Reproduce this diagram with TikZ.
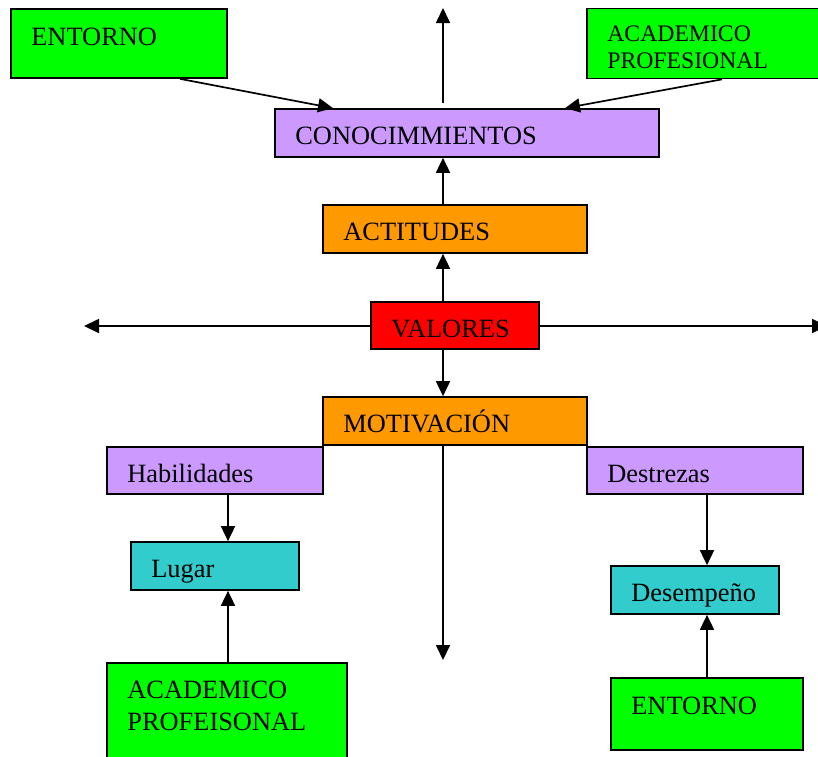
\documentclass[tikz,border=0pt]{standalone}
\usepackage{fontspec}
\setmainfont{Liberation Serif}
\usetikzlibrary{arrows.meta}

\definecolor{boxgreen}{RGB}{0,255,0}
\definecolor{boxlilac}{RGB}{204,153,255}
\definecolor{boxorange}{RGB}{255,153,0}
\definecolor{boxred}{RGB}{255,0,0}
\definecolor{boxcyan}{RGB}{51,204,204}

\tikzset{
  box/.style={draw=black, line width=1.7pt, inner sep=0pt, rectangle},
  txt/.style={inner sep=0pt, anchor=base west, font=\fontsize{26.4}{31.7}\selectfont},
  txtsmall/.style={inner sep=0pt, anchor=base west, font=\fontsize{23.7}{26.6}\selectfont},
  arr/.style={line width=1.7pt, -{Triangle[length=15pt,width=14pt]}}
}

\begin{document}
\begin{tikzpicture}[x=1pt, y=-1pt]
  \clip (0,0) rectangle (818,756);
  \fill[white] (0,0) rectangle (818,756);

  % boxes
  \node[box, fill=boxgreen, minimum width=216pt, minimum height=69pt] (ent1) at (119,43.5) {};
  \node[box, fill=boxgreen, minimum width=253pt, minimum height=70pt] (acad1) at (713.5,43.5) {};
  \node[box, fill=boxlilac, minimum width=384pt, minimum height=48pt] (con) at (467,133) {};
  \node[box, fill=boxorange, minimum width=264pt, minimum height=48pt] (act) at (455,229) {};
  \node[box, fill=boxred, minimum width=168pt, minimum height=47pt] (val) at (455,325.5) {};
  \node[box, fill=boxorange, minimum width=264pt, minimum height=48pt] (mot) at (455,421) {};
  \node[box, fill=boxlilac, minimum width=216pt, minimum height=47pt] (hab) at (215,470.5) {};
  \node[box, fill=boxlilac, minimum width=216pt, minimum height=47pt] (des) at (695,470.5) {};
  \node[box, fill=boxcyan, minimum width=168pt, minimum height=48pt] (lug) at (215,566) {};
  \node[box, fill=boxcyan, minimum width=168pt, minimum height=48pt] (dem) at (695,590) {};
  \node[box, fill=boxgreen, minimum width=240pt, minimum height=117pt] (acad2) at (227,721.5) {};
  \node[box, fill=boxgreen, minimum width=192pt, minimum height=72pt] (ent2) at (707,714) {};

  % labels
  \node[txt] (ent1t) at ([xshift=21pt,yshift=-37.5pt]ent1.north west) {ENTORNO};
  \node[txtsmall, align=left, anchor=north west] (acad1t) at ([xshift=21pt,yshift=-18pt]acad1.north west) {ACADEMICO\\PROFESIONAL};
  \node[txt] (cont) at ([xshift=21pt,yshift=-36.5pt]con.north west) {CONOCIMMIENTOS};
  \node[txt] (actt) at ([xshift=21pt,yshift=-36.5pt]act.north west) {ACTITUDES};
  \node[txt] (valt) at ([xshift=21pt,yshift=-36.5pt]val.north west) {VALORES};
  \node[txt] (mott) at ([xshift=21pt,yshift=-36.5pt]mot.north west) {MOTIVACIÓN};
  \node[txt] (habt) at ([xshift=21pt,yshift=-36.5pt]hab.north west) {Habilidades};
  \node[txt] (dest) at ([xshift=21pt,yshift=-36.5pt]des.north west) {Destrezas};
  \node[txt] (lugt) at ([xshift=21pt,yshift=-36.5pt]lug.north west) {Lugar};
  \node[txt] (demt) at ([xshift=21pt,yshift=-36.5pt]dem.north west) {Desempeño};
  \node[txt, align=left, anchor=north west] (acad2t) at ([xshift=21pt,yshift=-18.5pt]acad2.north west) {ACADEMICO\\PROFEISONAL};
  \node[txt] (ent2t) at ([xshift=21pt,yshift=-37.5pt]ent2.north west) {ENTORNO};

  % free ends
  \coordinate (topend) at (443,8);
  \coordinate (topstart) at (443,103);
  \coordinate (leftend) at (84,326);
  \coordinate (rightend) at (827,326);
  \coordinate (downend) at (443,660);

  % connectors
  \draw[arr] ([xshift=61pt]ent1.south) -- ([xshift=-134pt]con.north);
  \draw[arr] ([xshift=8.5pt]acad1.south) -- ([xshift=98pt]con.north);
  \draw[arr] (topstart) -- (topend);
  \draw[arr] ([xshift=-12pt]act.north) -- ([xshift=-24pt]con.south);
  \draw[arr] ([xshift=-12pt]val.north) -- ([xshift=-12pt]act.south);
  \draw[arr] ([xshift=-12pt]val.south) -- ([xshift=-12pt]mot.north);
  \draw[arr] (val.west |- leftend) -- (leftend);
  \draw[arr] (val.east |- rightend) -- (rightend);
  \draw[arr] ([xshift=-12pt]mot.south) -- (downend);
  \draw[arr] ([xshift=13pt]hab.south) -- ([xshift=13pt]lug.north);
  \draw[arr] ([xshift=1pt]acad2.north) -- ([xshift=13pt]lug.south);
  \draw[arr] ([xshift=12pt]des.south) -- ([xshift=12pt]dem.north);
  \draw[arr] (ent2.north) -- ([xshift=12pt]dem.south);
\end{tikzpicture}
\end{document}
